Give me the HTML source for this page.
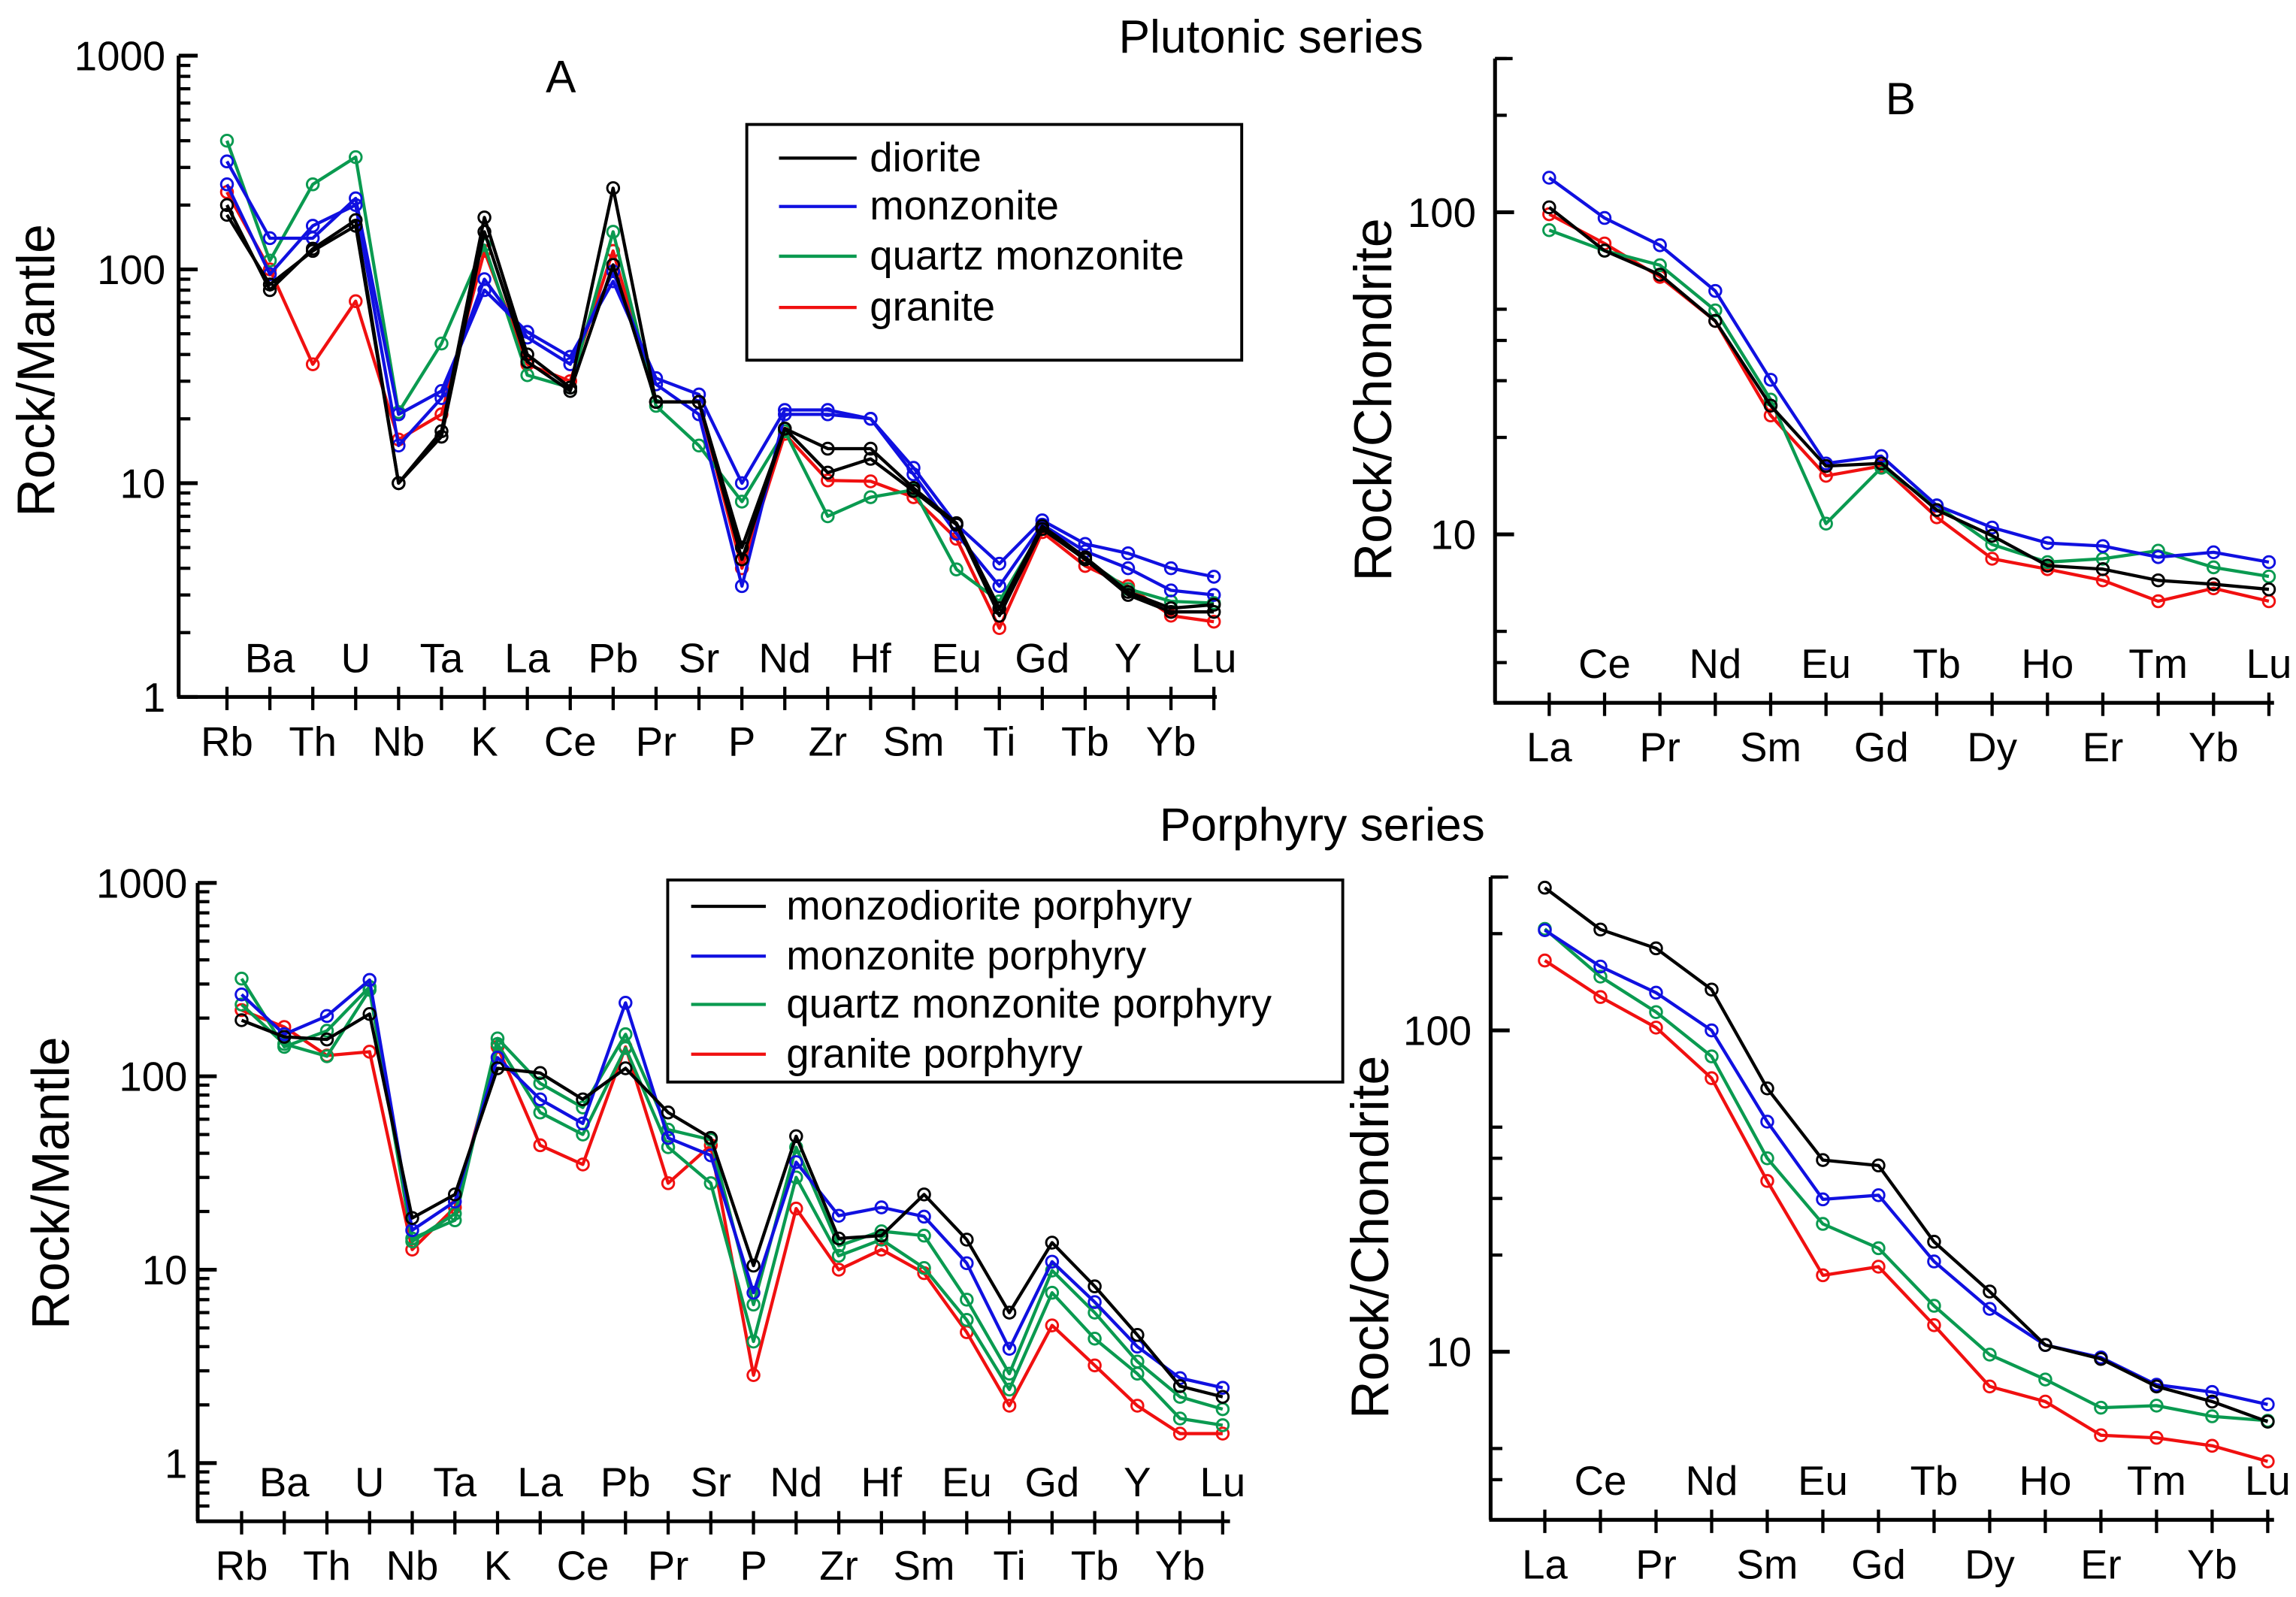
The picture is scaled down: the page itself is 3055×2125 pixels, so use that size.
<!DOCTYPE html>
<html><head><meta charset="utf-8"><style>
html,body{margin:0;padding:0;background:#fff;}
svg{display:block;font-family:"Liberation Sans",Arial,sans-serif;}
</style></head><body>
<svg id="fig" width="3055" height="2125" viewBox="0 0 1568 1090.7" preserveAspectRatio="none" xmlns="http://www.w3.org/2000/svg">
<rect width="1568" height="1091" fill="#fff"/>
<text x="868" y="36" font-size="32" text-anchor="middle">Plutonic series</text>
<text x="903" y="574" font-size="32" text-anchor="middle">Porphyry series</text>
<text x="383" y="63" font-size="31" text-anchor="middle">A</text>
<text x="1298" y="78" font-size="31" text-anchor="middle">B</text>
<text transform="translate(37,253) rotate(-90)" font-size="36" text-anchor="middle">Rock/Mantle</text>
<text transform="translate(47,808) rotate(-90)" font-size="36" text-anchor="middle">Rock/Mantle</text>
<text transform="translate(950,273) rotate(-90)" font-size="36" text-anchor="middle">Rock/Chondrite</text>
<text transform="translate(948,845) rotate(-90)" font-size="36" text-anchor="middle">Rock/Chondrite</text>
<g id="plots"></g>
<g>
<rect x="510" y="85" width="338" height="161" fill="#fff" stroke="#000" stroke-width="2"/>
<line x1="532" y1="108" x2="585" y2="108" stroke="#000" stroke-width="2.2"/><text x="594" y="117" font-size="28">diorite</text>
<line x1="532" y1="141" x2="585" y2="141" stroke="#1010e0" stroke-width="2.2"/><text x="594" y="150" font-size="28">monzonite</text>
<line x1="532" y1="175" x2="585" y2="175" stroke="#0a9a50" stroke-width="2.2"/><text x="594" y="184" font-size="28">quartz monzonite</text>
<line x1="532" y1="210" x2="585" y2="210" stroke="#f01010" stroke-width="2.2"/><text x="594" y="219" font-size="28">granite</text>
</g>
<g>
<rect x="456" y="601" width="461" height="138" fill="#fff" stroke="#000" stroke-width="2"/>
<line x1="472" y1="619" x2="523" y2="619" stroke="#000" stroke-width="2.2"/><text x="537" y="628" font-size="28">monzodiorite porphyry</text>
<line x1="472" y1="653" x2="523" y2="653" stroke="#1010e0" stroke-width="2.2"/><text x="537" y="662" font-size="28">monzonite porphyry</text>
<line x1="472" y1="686" x2="523" y2="686" stroke="#0a9a50" stroke-width="2.2"/><text x="537" y="695" font-size="28">quartz monzonite porphyry</text>
<line x1="472" y1="720" x2="523" y2="720" stroke="#f01010" stroke-width="2.2"/><text x="537" y="729" font-size="28">granite porphyry</text>
</g>
</svg>
<script>
const spiderElems = ["Rb","Ba","Th","U","Nb","Ta","K","La","Ce","Pb","Pr","Sr","P","Nd","Zr","Hf","Sm","Eu","Ti","Gd","Tb","Y","Yb","Lu"];
const reeElems = ["La","Ce","Pr","Nd","Sm","Eu","Gd","Tb","Dy","Ho","Er","Tm","Yb","Lu"];
const spiderTicksA = [1,10,100,1000];
const spiderTicksC = [1,10,100,1000];
const reeTicks = [10,100];
// Panel A: plutonic, primitive mantle normalised
const aDiorite1 = [200,80,125,170,10,17.5,175,40,28,240,24,24,5,18,14.5,14.5,9.5,6.5,2.6,6.3,4.5,3.1,2.6,2.7];
const aDiorite2 = [180,85,122,160,10,16.5,150,37,27,105,24,24,4.4,18,11.2,13,9.2,6.4,2.4,6.1,4.4,3.0,2.5,2.5];
const aMonzonite1 = [320,140,140,215,21,27,80,51,39,88,31,26,10,22,22,20,11.8,6.4,4.2,6.7,5.2,4.7,4.0,3.65];
const aMonzonite2 = [250,95,160,200,15,25,90,48,36,98,29,21,3.3,21,21,20,11,5.8,3.3,6.4,4.8,4.0,3.15,3.0];
const aQtzMonzonite = [400,110,250,335,21.5,45,130,32,28,150,23,15,8.2,17.5,7,8.6,9.3,3.95,2.8,6.1,4.4,3.2,2.8,2.75];
const aGranite = [230,100,36,71,16,21,122,36,30,122,24,24,4,17,10.3,10.2,8.6,5.5,2.1,5.9,4.1,3.3,2.4,2.25];
// Panel B: plutonic, chondrite normalised
const bDiorite = [103.6,76,64,46,25.1,16.3,16.6,11.9,9.9,8.0,7.8,7.2,7.0,6.75];
const bMonzonite = [128,96,79,57,30.2,16.6,17.5,12.3,10.5,9.4,9.2,8.5,8.8,8.2];
const bQtzMonzonite = [88,76,68.5,49.6,26.2,10.8,16.1,12.3,9.3,8.2,8.4,8.9,7.9,7.4];
const bGranite = [98.6,80,63,46,23.4,15.2,16.3,11.3,8.4,7.8,7.2,6.2,6.8,6.2];
// Panel C: porphyry, primitive mantle normalised
const cMonzodiorite = [195,160,155,210,18.5,24.5,110,104,76,110,65,48,10.5,49,14.5,15,24.5,14.3,6,13.8,8.2,4.6,2.5,2.2];
const cMonzonite = [265,165,205,315,16,22.5,125,76,57,240,48,39,7.6,36,19,21,18.8,10.8,3.9,11,6.8,4.0,2.75,2.45];
const cQtzMonzonite1 = [320,142,172,290,14.5,18,157,92,69,165,53,47,6.6,43,13.3,15.8,15,7,2.9,9.9,6,3.35,2.2,1.9];
const cQtzMonzonite2 = [235,147,127,280,14,19.5,147,65,50,140,43,28,4.25,30,11.8,14.3,10.2,5.5,2.4,7.6,4.4,2.9,1.7,1.57];
const cGranite = [220,180,128,134,12.7,21,142,44,35,142,28,44,2.85,20.7,10,12.7,9.6,4.75,1.98,5.15,3.2,1.98,1.42,1.42];
// Panel D: porphyry, chondrite normalised
const dMonzodiorite = [278,206,180,134,66,39.5,38,22,15.4,10.5,9.5,7.8,7.0,6.06];
const dMonzonite = [205,158,131,100,52,29.8,30.7,19.1,13.6,10.5,9.6,7.9,7.5,6.86];
const dQtzMonzonite = [207,147,114,83,40,25,21,13.9,9.8,8.2,6.7,6.8,6.3,6.1];
const dGranite = [165,127,102,71,34,17.3,18.4,12.1,7.8,7.0,5.5,5.4,5.1,4.56];

const NS = "http://www.w3.org/2000/svg";
const COL = {black:"#000", blue:"#1010e0", green:"#0a9a50", red:"#f01010"};
const root = document.getElementById("plots");
function mk(tag, attrs, parent){
  const e = document.createElementNS(NS, tag);
  for (const k in attrs) e.setAttribute(k, attrs[k]);
  (parent||root).appendChild(e);
  return e;
}
function drawPanel(p){
  const g = mk("g", {});
  
  
  const lmin = Math.log10(p.vmin), lmax = Math.log10(p.vmax);
  const yS = v => p.yTop + (lmax - Math.log10(v)) * (p.yBot - p.yTop) / (lmax - lmin);
  const xS = i => p.x0 + i * p.step;
  const ya = mk("line", {x1:p.axX, y1:p.yTop, x2:p.axX, y2:p.yBot, stroke:"#000", "stroke-width":2.6}, g);
  
  
  const xa = mk("line", {x1:p.axX-1, y1:p.yBot, x2:p.axEnd, y2:p.yBot, stroke:"#000", "stroke-width":2.6}, g);
  
  
  for (let d = Math.floor(lmin); d < lmax; d++) {
    for (const m of p.minors) {
      const v = m * Math.pow(10, d);
      if (v <= p.vmin*0.999 || v >= p.vmax*1.001) continue;
      const t = mk("line", {x1:p.axX, y1:yS(v), x2:p.axX+8, y2:yS(v), stroke:"#000", "stroke-width":2.2}, g);
      
      
    }
  }
  if (p.topTick) {
    const t = mk("line", {x1:p.axX, y1:p.yTop, x2:p.axX+12, y2:p.yTop, stroke:"#000", "stroke-width":2.2}, g);
    
    
  }
  for (const v of p.ticks) {
    const y = yS(v);
    const t = mk("line", {x1:p.axX, y1:y, x2:p.axX+13, y2:y, stroke:"#000", "stroke-width":2.6}, g);
    
    
    const lb = mk("text", {x:p.labX, y:y+10, "font-size":28, "text-anchor":"end"}, g);
    
    
    lb.textContent = String(v);
  }
  p.elems.forEach((el, i) => {
    const x = xS(i);
    const t = mk("line", {x1:x, y1:p.yBot-7, x2:x, y2:p.yBot+9, stroke:"#000", "stroke-width":2.2}, g);
    
    
    const lb = mk("text", {x:x, y:(i%2===0 ? p.yBot+40 : p.yBot-17), "font-size":28, "text-anchor":"middle"}, g);
    
    
    lb.textContent = el;
  });
  p.series.forEach(s => {
    const sg = mk("g", {}, g);
    
    
    const pts = s.vals.map((v, i) => xS(i).toFixed(1) + "," + yS(v).toFixed(1)).join(" ");
    const pl = mk("polyline", {points:pts, fill:"none", stroke:COL[s.col], "stroke-width":2.2, "stroke-linejoin":"round"}, sg);
    
    
    s.vals.forEach((v, i) => {
      const c = mk("circle", {cx:xS(i), cy:yS(v), r:4, fill:"none", stroke:COL[s.col], "stroke-width":1.5}, sg);
      
      
    });
  });
}
drawPanel({name:"panel-a-spider", elems:spiderElems, x0:155, step:(829-155)/23, axX:122, axEnd:831,
  yTop:38, yBot:476, vmin:1, vmax:1000, ticks:spiderTicksA, minors:[2,3,4,5,6,7,8,9], labX:113, topTick:false,
  series:[
    {name:"series-a-granite", col:"red", vals:aGranite},
    {name:"series-a-quartz-monzonite", col:"green", vals:aQtzMonzonite},
    {name:"series-a-monzonite-1", col:"blue", vals:aMonzonite1},
    {name:"series-a-monzonite-2", col:"blue", vals:aMonzonite2},
    {name:"series-a-diorite-1", col:"black", vals:aDiorite1},
    {name:"series-a-diorite-2", col:"black", vals:aDiorite2}]});
drawPanel({name:"panel-b-ree", elems:reeElems, x0:1058, step:(1549.5-1058)/13, axX:1021, axEnd:1553,
  yTop:40, yBot:480, vmin:3, vmax:300, ticks:reeTicks, minors:[2,3,4,5], labX:1008, topTick:true,
  series:[
    {name:"series-b-granite", col:"red", vals:bGranite},
    {name:"series-b-quartz-monzonite", col:"green", vals:bQtzMonzonite},
    {name:"series-b-monzonite", col:"blue", vals:bMonzonite},
    {name:"series-b-diorite", col:"black", vals:bDiorite}]});
drawPanel({name:"panel-c-spider", elems:spiderElems, x0:165, step:(835-165)/23, axX:135, axEnd:840,
  yTop:603, yBot:1039, vmin:0.5, vmax:1000, ticks:spiderTicksC, minors:[2,3,4,5,6,7,8,9], labX:128, topTick:false,
  series:[
    {name:"series-c-granite-porphyry", col:"red", vals:cGranite},
    {name:"series-c-quartz-monzonite-porphyry-1", col:"green", vals:cQtzMonzonite1},
    {name:"series-c-quartz-monzonite-porphyry-2", col:"green", vals:cQtzMonzonite2},
    {name:"series-c-monzonite-porphyry", col:"blue", vals:cMonzonite},
    {name:"series-c-monzodiorite-porphyry", col:"black", vals:cMonzodiorite}]});
drawPanel({name:"panel-d-ree", elems:reeElems, x0:1055, step:(1548.7-1055)/13, axX:1018, axEnd:1553,
  yTop:599, yBot:1038, vmin:3, vmax:300, ticks:reeTicks, minors:[2,3,4,5], labX:1005, topTick:true,
  series:[
    {name:"series-d-granite-porphyry", col:"red", vals:dGranite},
    {name:"series-d-quartz-monzonite-porphyry", col:"green", vals:dQtzMonzonite},
    {name:"series-d-monzonite-porphyry", col:"blue", vals:dMonzonite},
    {name:"series-d-monzodiorite-porphyry", col:"black", vals:dMonzodiorite}]});
</script>
</body></html>
